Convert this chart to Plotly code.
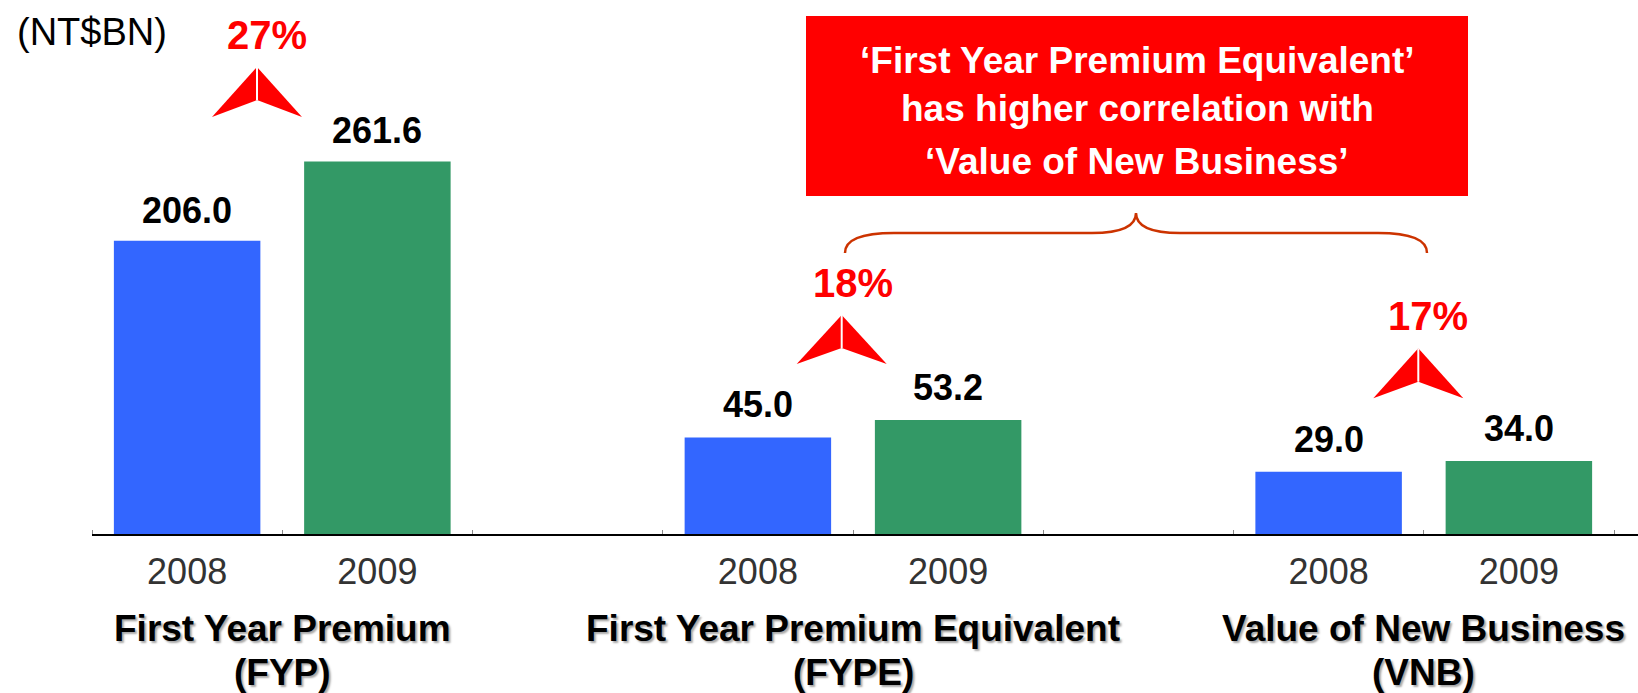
import plotly.graph_objects as go

# ---------------- data ----------------
groups = ["First Year Premium", "First Year Premium Equivalent", "Value of New Business"]
abbrevs = ["(FYP)", "(FYPE)", "(VNB)"]
years = ["2008", "2009"]
values_2008 = [206.0, 45.0, 29.0]
values_2009 = [261.6, 53.2, 34.0]
growth = ["27%", "18%", "17%"]
unit_label = "(NT$BN)"
callout_lines = ["‘First Year Premium Equivalent’",
                 "has higher correlation with",
                 "‘Value of New Business’"]

# ---------------- layout constants ----------------
W, H = 1638, 693
ML, MR, MT, MB = 92, 0, 0, 159
PW, PH = W - ML - MR, H - MT - MB
XMAX = 7.5 + 24 / 190.25
BLUE, GREEN, RED, BRACE = "#3366FF", "#339966", "#FF0000", "#CC3300"
FONT = "Liberation Sans, Arial, sans-serif"


def px(x, y):
    """pixel -> paper coordinates"""
    return (x - ML) / PW, (H - MB - y) / PH


def path(points_cmds):
    out = []
    for cmd, pts in points_cmds:
        coords = " ".join("%.5f,%.5f" % px(*p) for p in pts)
        out.append(cmd + " " + coords)
    return " ".join(out)


slot = lambda g, j: 3 * g + j
axis_of = lambda g: "y" if g == 0 else "y2"

fig = go.Figure()
for j, (yr, vals, col) in enumerate(zip(years, [values_2008, values_2009], [BLUE, GREEN])):
    for g in range(len(groups)):
        fig.add_trace(go.Bar(
            x=[slot(g, j)], y=[vals[g]], width=0.77, marker_color=col,
            marker_line_width=0, yaxis=axis_of(g), showlegend=False,
            name=yr, hovertemplate=groups[g] + " " + yr + ": %{y}<extra></extra>"))

annotations = []
# value labels
for j, vals in enumerate([values_2008, values_2009]):
    for g in range(len(groups)):
        annotations.append(dict(
            x=slot(g, j), y=vals[g], xref="x", yref=axis_of(g),
            text="%.1f" % vals[g], showarrow=False, xanchor="center", yanchor="bottom",
            yshift=10 if g else 8,
            font=dict(family=FONT, size=36, color="black", weight="bold")))

# group labels (two lines)
for g in range(len(groups)):
    for txt, cy in [(groups[g], 628), (abbrevs[g], 672)]:
        annotations.append(dict(
            x=slot(g, 0.5), xref="x", y=px(0, cy)[1], yref="paper",
            text=txt, showarrow=False, xanchor="center", yanchor="middle",
            font=dict(family=FONT, size=37, color="black",
                      weight="bold", shadow="2px 2px 2px #a8a8a8")))

# unit label
annotations.append(dict(x=px(15, 0)[0], y=px(0, 32)[1], xref="paper", yref="paper",
                        text=unit_label, showarrow=False, xanchor="left", yanchor="middle",
                        font=dict(family=FONT, size=38, color="black")))

# growth labels + arrows
growth_pos = [(267, 35), (852.6, 282.5), (1428.3, 315.8)]
arrow_pos = [((257, 67), 45, 50, 33), ((841.7, 315), 45, 49, 33), ((1418.3, 348.3), 45, 50, 33.4)]
shapes = []
for txt, (cx, cy) in zip(growth, growth_pos):
    annotations.append(dict(x=px(cx, 0)[0], y=px(0, cy)[1], xref="paper", yref="paper",
                            text=txt, showarrow=False, xanchor="center", yanchor="middle",
                            font=dict(family=FONT, size=40, color=RED, weight="bold")))
for (ax, ay), hw, hh, inner in arrow_pos:
    apex, left, right, mid = (ax, ay), (ax - hw, ay + hh), (ax + hw, ay + hh), (ax, ay + inner)
    for tri in [(apex, left, mid), (apex, mid, right)]:
        shapes.append(dict(type="path", xref="paper", yref="paper",
                           path=path([("M", [tri[0]]), ("L", [tri[1]]), ("L", [tri[2]])]) + " Z",
                           fillcolor=RED, line=dict(width=0)))
    shapes.append(dict(type="line", xref="paper", yref="paper",
                       x0=px(*apex)[0], y0=px(*apex)[1], x1=px(*mid)[0], y1=px(*mid)[1],
                       line=dict(color="white", width=2)))

# callout box
bx0, by0 = px(806, 16)
bx1, by1 = px(1468, 196)
shapes.append(dict(type="rect", xref="paper", yref="paper", x0=bx0, y0=by0, x1=bx1, y1=by1,
                   fillcolor=RED, line=dict(width=0), layer="above"))
for txt, cy in zip(callout_lines, [60, 108, 162]):
    annotations.append(dict(x=px(1137, 0)[0], y=px(0, cy)[1], xref="paper", yref="paper",
                            text=txt, showarrow=False, xanchor="center", yanchor="middle",
                            font=dict(family=FONT, size=37, color="white", weight="bold")))

# curly brace
brace = path([
    ("M", [(845, 253)]),
    ("C", [(845, 240), (860, 233), (894, 233)]),
    ("L", [(1092, 233)]),
    ("C", [(1122, 233), (1136, 226), (1136, 213)]),
    ("C", [(1136, 226), (1150, 233), (1180, 233)]),
    ("L", [(1378, 233)]),
    ("C", [(1412, 233), (1427, 240), (1427, 253)]),
])
shapes.append(dict(type="path", xref="paper", yref="paper", path=brace,
                   line=dict(color=BRACE, width=2.5)))

tickvals = [slot(g, j) for g in range(len(groups)) for j in range(len(years))]
ticktext = [years[j] for g in range(len(groups)) for j in range(len(years))]

fig.update_layout(
    width=W, height=H, margin=dict(l=ML, r=MR, t=MT, b=MB, pad=0),
    paper_bgcolor="white", plot_bgcolor="white", barmode="overlay",
    showlegend=False, annotations=annotations, shapes=shapes,
    xaxis=dict(range=[-0.5, XMAX], tickvals=tickvals, ticktext=ticktext, ticks="",
               showgrid=False, zeroline=False, showline=True, linecolor="black", linewidth=2,
               tickfont=dict(family=FONT, size=36, color="#333333"), ticklabelstandoff=5,
               minor=dict(tickvals=[i - 0.5 for i in range(9)], ticks="inside", ticklen=4,
                          tickcolor="#888888", tickwidth=1, showgrid=False)),
    yaxis=dict(range=[0, PH / 1.424], visible=False, showgrid=False, zeroline=False),
    yaxis2=dict(range=[0, PH / 2.145], overlaying="y", visible=False, showgrid=False,
                zeroline=False),
)

fig.write_html("out.html", config={"displayModeBar": False},
               post_script="document.body.style.margin='0';document.body.style.padding='0';")
